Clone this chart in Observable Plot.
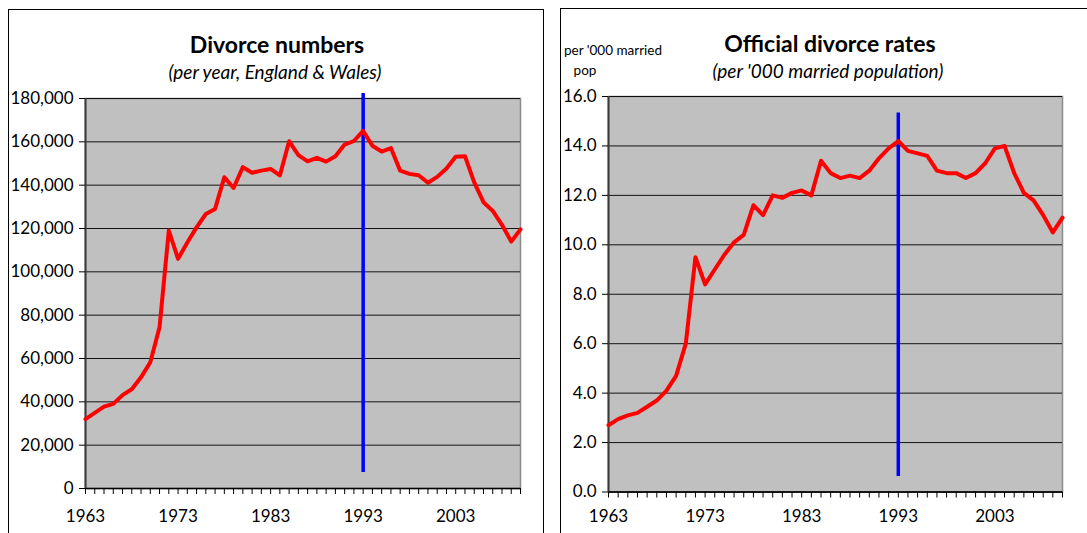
<!DOCTYPE html>
<html>
<head>
<meta charset="utf-8">
<script src="https://cdn.jsdelivr.net/npm/d3@7"></script>
<script src="https://cdn.jsdelivr.net/npm/@observablehq/plot@0.6"></script>
<style>
  html, body { margin: 0; padding: 0; background: #fff; }
  body { width: 1087px; height: 533px; position: relative; overflow: hidden; font-family: Lato, "Open Sans", sans-serif; color: #000; }
  .box { position: absolute; border: 1px solid #000; box-sizing: border-box; }
  .t { position: absolute; white-space: nowrap; transform: translateX(-50%); }
  .title { font-weight: bold; font-size: 23px; line-height: 28px; }
  .sub { font-style: italic; font-size: 19px; line-height: 22px; }
  .ylab { font-size: 13.5px; line-height: 16px; }
  .plot { position: absolute; top: 0; }
  .plot svg text { font-size: 17px; }
</style>
</head>
<body>
<div class="box" style="left:8px; top:9px; width:536px; height:560px;"></div>
<div class="box" style="left:560px; top:8px; width:560px; height:560px;"></div>

<div class="t title" style="left:277px; top:30px;">Divorce numbers</div>
<div class="t sub" style="left:275px; top:61px;">(per year, England &amp; Wales)</div>

<div class="t title" style="left:830px; top:29px;">Official divorce rates</div>
<div class="t sub" style="left:828px; top:60px;">(per '000 married population)</div>
<div class="t ylab" style="left:613px; top:42px;">per '000 married</div>
<div class="t ylab" style="left:585px; top:62px;">pop</div>

<div id="left" class="plot" style="left:0px;"></div>
<div id="right" class="plot" style="left:545px;"></div>

<script>
const years = [1963,1964,1965,1966,1967,1968,1969,1970,1971,1972,1973,1974,1975,1976,1977,1978,1979,1980,1981,1982,1983,1984,1985,1986,1987,1988,1989,1990,1991,1992,1993,1994,1995,1996,1997,1998,1999,2000,2001,2002,2003,2004,2005,2006,2007,2008,2009,2010];
const divorceNumbers = [32052,34868,37785,39067,43093,45794,51310,58239,74437,119025,106003,113500,120522,126694,129053,143667,138706,148301,145713,146698,147479,144501,160300,153903,151007,152633,150872,153386,158745,160385,165018,158175,155499,157107,146689,145214,144556,141135,143818,147735,153065,153399,141322,132140,128131,121708,113949,119589];
const divorceRates = [2.7,2.95,3.1,3.2,3.45,3.7,4.1,4.7,6.0,9.5,8.4,9.0,9.6,10.1,10.4,11.6,11.2,12.0,11.9,12.1,12.2,12.0,13.4,12.9,12.7,12.8,12.7,13.0,13.5,13.9,14.2,13.8,13.7,13.6,13.0,12.9,12.9,12.7,12.9,13.3,13.9,14.0,12.9,12.1,11.8,11.2,10.5,11.1];
const labelYears = [1963,1973,1983,1993,2003];
const numberTicks = [0,20000,40000,60000,80000,100000,120000,140000,160000,180000];
const rateTicks = [0,2,4,6,8,10,12,14,16];
const markerYear = 1993;
const markerNumbers = [7400, 182300];
const markerRates = [0.63, 15.33];

const numbersData = years.map((y, i) => ({year: y, value: divorceNumbers[i]}));
const ratesData = years.map((y, i) => ({year: y, value: divorceRates[i]}));

function panel({data, yDomain, yTicks, yFormat, marker, width, height, mL, mR, mT, mB, labelPad}) {
  return Plot.plot({
    width, height,
    marginLeft: mL, marginRight: mR, marginTop: mT, marginBottom: mB,
    style: {fontFamily: "Lato, 'Open Sans', sans-serif", fontSize: "17px", color: "#000", background: "transparent", overflow: "visible"},
    x: {domain: [1963, 2010], label: null},
    y: {domain: yDomain, label: null},
    marks: [
      Plot.frame({fill: "#c0c0c0", stroke: "#8a8a8a", strokeWidth: 1.5}),
      Plot.gridY(yTicks, {stroke: "#000", strokeOpacity: 0.9, strokeWidth: 1}),
      Plot.ruleY([yDomain[0]], {stroke: "#000", strokeWidth: 1.5}),
      Plot.ruleX([1963], {stroke: "#3a3a3a", strokeWidth: 2}),
      Plot.axisY(yTicks, {tickSize: 6, tickPadding: 6, tickFormat: yFormat, fontSize: 17, stroke: "#000", label: null}),
      Plot.axisX(years, {tickSize: 6, tickFormat: () => "", stroke: "#000", label: null}),
      Plot.axisX(labelYears, {tickSize: 0, tickPadding: labelPad, tickFormat: d3.format("d"), fontSize: 17, label: null}),
      Plot.ruleX([markerYear], {y1: marker[0], y2: marker[1], stroke: "#0000ff", strokeWidth: 3.5}),
      Plot.line(data, {x: "year", y: "value", stroke: "#ff0000", strokeWidth: 4, strokeLinejoin: "round"})
    ]
  });
}

document.getElementById("left").append(panel({
  data: numbersData, yDomain: [0, 180000], yTicks: numberTicks, yFormat: d3.format(","),
  marker: markerNumbers, width: 545, height: 533, mL: 85, mR: 25, mT: 98, mB: 45, labelPad: 21
}));
document.getElementById("right").append(panel({
  data: ratesData, yDomain: [0, 16], yTicks: rateTicks, yFormat: d3.format(".1f"),
  marker: markerRates, width: 542, height: 533, mL: 63, mR: 25, mT: 96, mB: 41.5, labelPad: 18
}));
</script>
</body>
</html>
